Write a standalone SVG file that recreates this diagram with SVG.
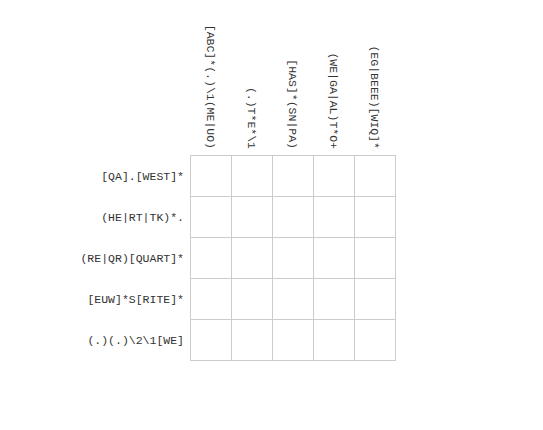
<svg xmlns="http://www.w3.org/2000/svg" width="543" height="430" viewBox="0 0 543 430">
<style>
.t{font-family:"Liberation Mono","DejaVu Sans Mono",monospace;font-size:11.5px;fill:#333}
.r{text-anchor:end;dominant-baseline:central}
.cell{fill:#fff;stroke:#ccc;stroke-width:1}
</style>
<rect width="543" height="430" fill="#fff"/>
<g id="grid">
<rect class="cell" x="190.5" y="155.5" width="41" height="41"/><rect class="cell" x="231.5" y="155.5" width="41" height="41"/><rect class="cell" x="272.5" y="155.5" width="41" height="41"/><rect class="cell" x="313.5" y="155.5" width="41" height="41"/><rect class="cell" x="354.5" y="155.5" width="41" height="41"/>
<rect class="cell" x="190.5" y="196.5" width="41" height="41"/><rect class="cell" x="231.5" y="196.5" width="41" height="41"/><rect class="cell" x="272.5" y="196.5" width="41" height="41"/><rect class="cell" x="313.5" y="196.5" width="41" height="41"/><rect class="cell" x="354.5" y="196.5" width="41" height="41"/>
<rect class="cell" x="190.5" y="237.5" width="41" height="41"/><rect class="cell" x="231.5" y="237.5" width="41" height="41"/><rect class="cell" x="272.5" y="237.5" width="41" height="41"/><rect class="cell" x="313.5" y="237.5" width="41" height="41"/><rect class="cell" x="354.5" y="237.5" width="41" height="41"/>
<rect class="cell" x="190.5" y="278.5" width="41" height="41"/><rect class="cell" x="231.5" y="278.5" width="41" height="41"/><rect class="cell" x="272.5" y="278.5" width="41" height="41"/><rect class="cell" x="313.5" y="278.5" width="41" height="41"/><rect class="cell" x="354.5" y="278.5" width="41" height="41"/>
<rect class="cell" x="190.5" y="319.5" width="41" height="41"/><rect class="cell" x="231.5" y="319.5" width="41" height="41"/><rect class="cell" x="272.5" y="319.5" width="41" height="41"/><rect class="cell" x="313.5" y="319.5" width="41" height="41"/><rect class="cell" x="354.5" y="319.5" width="41" height="41"/>
</g>
<g id="rows">
<text class="t r" x="184" y="176">[QA].[WEST]*</text>
<text class="t r" x="184" y="217">(HE|RT|TK)*.</text>
<text class="t r" x="184" y="258">(RE|QR)[QUART]*</text>
<text class="t r" x="184" y="299">[EUW]*S[RITE]*</text>
<text class="t r" x="184" y="340">(.)(.)\2\1[WE]</text>
</g>
<g id="cols">
<text class="t r" transform="translate(210,149) rotate(90)">[ABC]*(.)\1(ME|UO)</text>
<text class="t r" transform="translate(251,149) rotate(90)">(.)T*E*\1</text>
<text class="t r" transform="translate(292,149) rotate(90)">[HAS]*(SN|PA)</text>
<text class="t r" transform="translate(333,149) rotate(90)">(WE|GA|AL)T*O+</text>
<text class="t r" transform="translate(374,149) rotate(90)">(EG|BEEE)[WIQ]*</text>
</g>
</svg>
